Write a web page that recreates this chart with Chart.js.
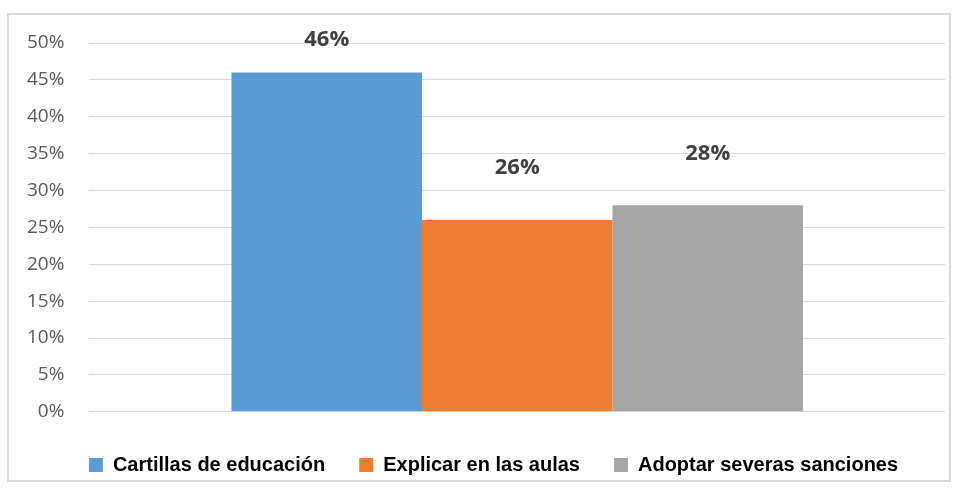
<!DOCTYPE html>
<html>
<head>
<meta charset="utf-8">
<script src="https://cdn.jsdelivr.net/npm/chart.js@4.4.0/dist/chart.umd.min.js"></script>
<style>
  html, body { margin: 0; padding: 0; background: #fff; }
  #wrap { position: relative; width: 960px; height: 494px; }
  #frame { position: absolute; left: 7px; top: 13px; width: 940px; height: 465px;
           border: 2px solid #d9d9d9; pointer-events: none; }
</style>
</head>
<body>
<div id="wrap">
  <canvas id="myChart" width="960" height="494"></canvas>
  <div id="frame"></div>
</div>
<script>
// datos del gráfico
const categories = [''];
const seriesNames = ['Cartillas de educación', 'Explicar en las aulas', 'Adoptar severas sanciones'];
const seriesValues = [[46], [26], [28]];
const seriesColors = ['#5b9bd5', '#ed7d31', '#a5a5a5'];

const ctx = document.getElementById('myChart');

// etiquetas de valor encima de cada barra
const valueLabels = {
  id: 'valueLabels',
  afterDatasetsDraw(chart) {
    const c = chart.ctx;
    c.save();
    c.font = 'bold 22px "Open Sans", sans-serif';
    c.fillStyle = '#404040';
    c.textAlign = 'center';
    c.textBaseline = 'middle';
    chart.data.datasets.forEach((ds, i) => {
      const bar = chart.getDatasetMeta(i).data[0];
      const y = Math.max(bar.y - 52, chart.chartArea.top - 3);
      c.fillText(ds.data[0] + '%', bar.x, y);
    });
    c.restore();
  }
};

// desplazar la leyenda un poco a la derecha (como en el original)
const legendShift = {
  id: 'legendShift',
  afterLayout(chart) {
    if (chart.legend) {
      chart.legend.left += 20;
      chart.legend.right += 20;
    }
  }
};

const chart = new Chart(ctx, {
  type: 'bar',
  data: {
    labels: categories,
    datasets: seriesNames.map((name, i) => ({
      label: name,
      data: seriesValues[i],
      backgroundColor: seriesColors[i],
      borderWidth: 0,
      barPercentage: 1,
      categoryPercentage: 0.668
    }))
  },
  options: {
    responsive: false,
    animation: false,
    layout: { padding: { top: 43, left: 2, right: 15, bottom: 9 } },
    scales: {
      x: { display: false },
      y: {
        min: 0,
        max: 50,
        ticks: {
          stepSize: 5,
          padding: 25,
          color: '#595959',
          font: { family: '"Open Sans", sans-serif', size: 19 },
          callback: v => v + '%'
        },
        grid: { color: '#d9d9d9', lineWidth: 1, drawTicks: false },
        border: { display: false }
      }
    },
    plugins: {
      legend: {
        position: 'bottom',
        title: { display: true, text: ' ', font: { size: 1 }, padding: { top: 0, bottom: 8 } },
        labels: {
          boxWidth: 14,
          boxHeight: 14,
          padding: 34,
          color: '#000',
          font: { family: '"Liberation Sans Narrow", "Liberation Sans", sans-serif', size: 20, weight: 'bold' }
        }
      },
      tooltip: { enabled: false }
    }
  },
  plugins: [valueLabels, legendShift]
});
</script>
</body>
</html>
